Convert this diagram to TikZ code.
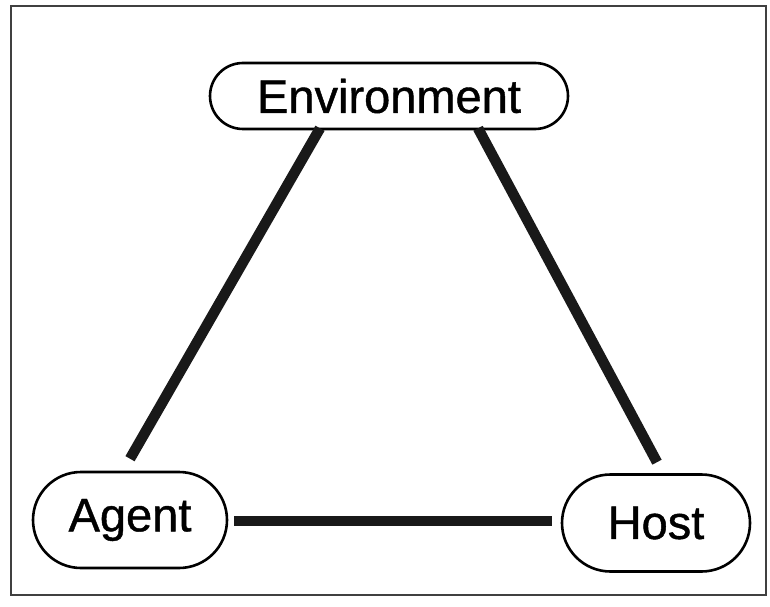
\documentclass[tikz,border=0pt]{standalone}
\usepackage{fontspec}
\setmainfont{Liberation Sans}
\newfontfamily\labelfont{Liberation Sans}[FakeBold=0.9]
\usetikzlibrary{shapes.misc,calc}
\begin{document}
\begin{tikzpicture}[x=1pt,y=1pt,
  entity/.style={rounded rectangle, draw=black, line width=2.6pt, inner sep=0pt,
    font=\labelfont\fontsize{47}{54}\selectfont},
  link/.style={draw=black!90, line width=10.5pt},
  frame/.style={draw=black!75, line width=2.2pt}]
  \useasboundingbox (0,0) rectangle (770,606);
  \draw[frame] (11,11) rectangle (766,600);
  % the three factors
  \node[entity, minimum width=358pt, minimum height=66pt] (env) at (389,510) {Environment};
  \node[entity, minimum width=194pt, minimum height=96pt] (agent) at (130,86) {Agent};
  \node[entity, minimum width=188pt, minimum height=97pt] (host) at (656,83) {Host};
  % links between them
  \draw[link] ($(agent.north)+(0,12)$) -- ($(env.south)+(-69,2)$);
  \draw[link] ($(env.south)+(89,2)$) -- ($(host.north)+(1,11)$);
  \draw[link, line width=9.5pt] ($(agent.east)+(6,-1)$) -- ($(host.west)+(-9,2)$);
\end{tikzpicture}
\end{document}
